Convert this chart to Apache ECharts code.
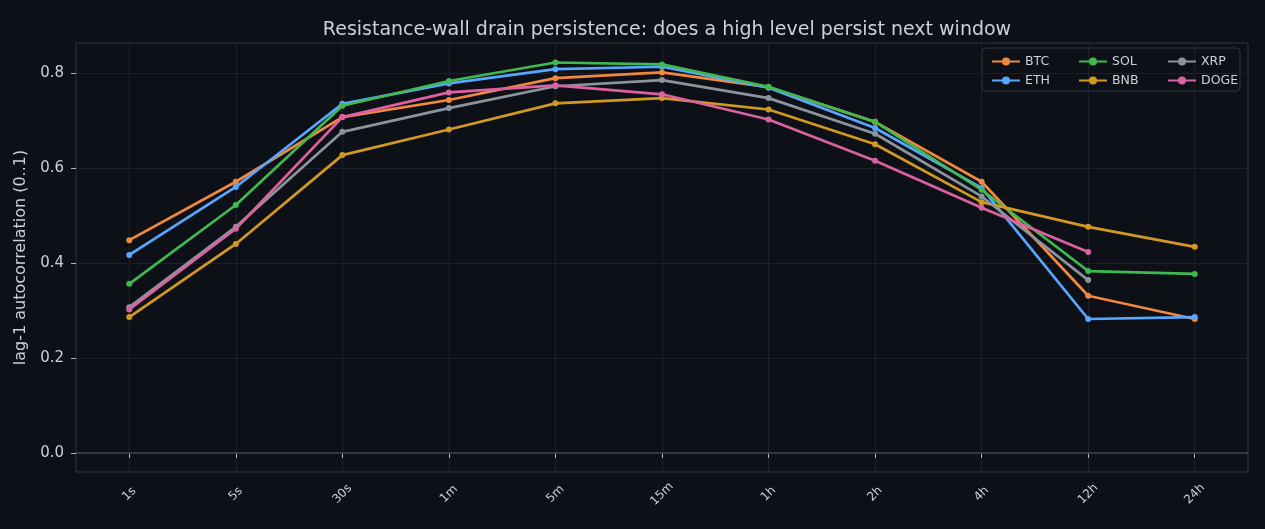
<!DOCTYPE html>
<html>
<head>
<meta charset="utf-8">
<script src="https://cdn.jsdelivr.net/npm/echarts@6/dist/echarts.min.js"></script>
<style>
  html, body { margin: 0; padding: 0; background: #0d1117; }
  #chart { width: 1265px; height: 529px; }
</style>
</head>
<body>
<div id="chart"></div>
<script>
const windows = ['1s', '5s', '30s', '1m', '5m', '15m', '1h', '2h', '4h', '12h', '24h'];
const yTicks = [0, 0.2, 0.4, 0.6, 0.8];

const btc  = [0.448, 0.571, 0.707, 0.743, 0.789, 0.801, 0.770, 0.697, 0.571, 0.331, 0.282];
const eth  = [0.417, 0.560, 0.735, 0.778, 0.808, 0.813, 0.769, 0.684, 0.558, 0.282, 0.286];
const sol  = [0.356, 0.522, 0.731, 0.783, 0.822, 0.818, 0.771, 0.697, 0.554, 0.383, 0.377];
const bnb  = [0.286, 0.440, 0.627, 0.681, 0.736, 0.747, 0.723, 0.650, 0.528, 0.476, 0.434];
const xrp  = [0.307, 0.476, 0.676, 0.726, 0.772, 0.785, 0.747, 0.672, 0.540, 0.364, null];
const doge = [0.302, 0.472, 0.707, 0.759, 0.774, 0.755, 0.702, 0.615, 0.516, 0.423, null];

const colors = {
  BTC: '#f0883e', ETH: '#58a6ff', SOL: '#3fb950',
  BNB: '#d29922', XRP: '#8b949e', DOGE: '#db61a2'
};
const font = 'DejaVu Sans';
const textColor = '#c9d1d9';

function line(name, data) {
  return {
    name: name,
    type: 'line',
    data: data,
    symbol: 'circle',
    symbolSize: 6,
    color: colors[name],
    lineStyle: { width: 2.7 },
    connectNulls: false
  };
}

const series = [
  line('BTC', btc), line('ETH', eth), line('SOL', sol),
  line('BNB', bnb), line('XRP', xrp), line('DOGE', doge)
];
// zero reference line
series[0].markLine = {
  silent: true,
  symbol: 'none',
  label: { show: false },
  lineStyle: { color: '#3d444d', width: 1.5, type: 'solid' },
  data: [{ yAxis: 0 }]
};

function legendCol(left, names) {
  return {
    orient: 'vertical',
    left: left,
    top: 50,
    itemWidth: 28,
    itemHeight: 10,
    itemGap: 6,
    data: names,
    textStyle: { color: textColor, fontFamily: font, fontSize: 12.5 }
  };
}

let option = {
  backgroundColor: '#0d1117',
  animation: false,
  title: {
    text: 'Resistance-wall drain persistence: does a high level persist next window',
    left: 662,
    textAlign: 'center',
    top: 16,
    textStyle: { color: textColor, fontFamily: font, fontSize: 19, fontWeight: 'normal' }
  },
  graphic: [{
    type: 'rect',
    shape: { x: 982, y: 48, width: 258, height: 43, r: 4 },
    style: { fill: '#0d1117', stroke: '#30363d', lineWidth: 1 },
    z: 0
  }],
  legend: [
    legendCol(986, ['BTC', 'ETH']),
    legendCol(1073, ['SOL', 'BNB']),
    legendCol(1162, ['XRP', 'DOGE'])
  ],
  grid: {
    left: 76, right: 17, top: 43, bottom: 57,
    show: true, borderColor: '#30363d', borderWidth: 1
  },
  xAxis: {
    type: 'category',
    data: windows,
    boundaryGap: true,
    axisLine: { show: false },
    axisTick: { show: true, alignWithLabel: true, length: 5, lineStyle: { color: '#adb5bd' } },
    axisLabel: {
      rotate: 45, color: textColor, fontFamily: font, fontSize: 12,
      margin: 22, align: 'center', verticalAlign: 'middle'
    },
    splitLine: { show: true, alignWithLabel: true, lineStyle: { color: '#1c2128', width: 1 } }
  },
  yAxis: {
    type: 'value',
    min: -0.04,
    max: 0.863,
    name: 'lag-1 autocorrelation (0..1)',
    nameLocation: 'middle',
    nameGap: 44,
    nameTextStyle: { color: textColor, fontFamily: font, fontSize: 16 },
    axisLine: { show: false },
    axisTick: { show: true, length: 5, customValues: yTicks, lineStyle: { color: '#adb5bd' } },
    axisLabel: {
      customValues: yTicks,
      color: textColor, fontFamily: font, fontSize: 15, margin: 12,
      formatter: v => v.toFixed(1)
    },
    splitLine: { show: true, lineStyle: { color: '#1c2128', width: 1 } }
  },
  series: series
};

const chart = echarts.init(document.getElementById('chart'));
chart.setOption(option);
</script>
</body>
</html>
